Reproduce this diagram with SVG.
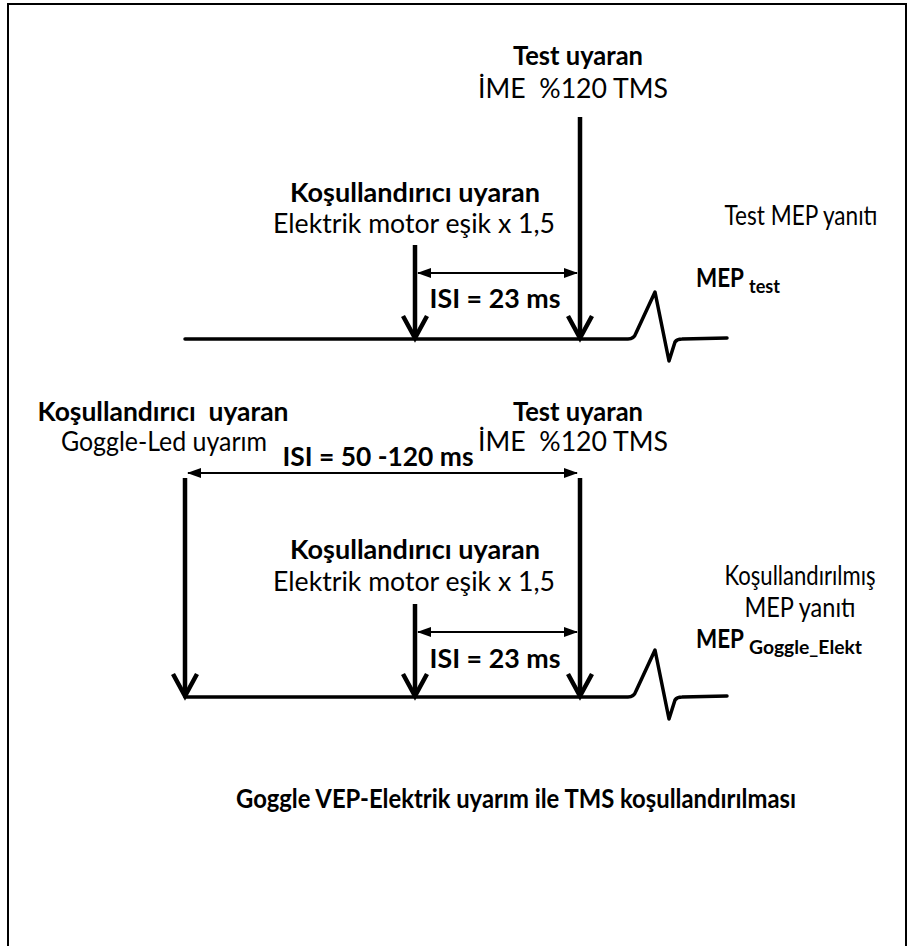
<svg xmlns="http://www.w3.org/2000/svg" width="923" height="946" viewBox="0 0 923 946">
<defs>
<marker id="tri" viewBox="0 0 14 10" refX="13" refY="5" markerWidth="14" markerHeight="10" markerUnits="userSpaceOnUse" orient="auto-start-reverse">
<path d="M0,0 L14,5 L0,10 Z" fill="#000"/>
</marker>
</defs>
<style>
text{font-family:Lato,"Liberation Sans",sans-serif;font-size:27px;fill:#000;white-space:pre}
.b{font-weight:bold}
.m{text-anchor:middle}
.mep{font-size:26px;font-weight:bold}
.sub{font-size:18px;font-weight:bold}
.stem{stroke:#000;stroke-width:4.5;fill:none}
.head{stroke:#000;stroke-width:4.5;fill:none;stroke-linejoin:miter;stroke-linecap:butt}
.base{stroke:#000;stroke-width:3.5;fill:none;stroke-linejoin:round;stroke-linecap:round}
.dbl{stroke:#000;stroke-width:2;fill:none;marker-start:url(#tri);marker-end:url(#tri)}
</style>
<rect x="8" y="4" width="898" height="980" fill="#fff" stroke="#000" stroke-width="2"/>

<g id="test-stim-1">
<text class="b m" x="578" y="65" textLength="130" lengthAdjust="spacingAndGlyphs">Test uyaran</text>
<text class="m" x="573" y="98" textLength="190" lengthAdjust="spacingAndGlyphs">İME  %120 TMS</text>
</g>
<g id="cond-stim-1">
<text class="b m" x="415" y="202" textLength="250" lengthAdjust="spacingAndGlyphs">Koşullandırıcı uyaran</text>
<text class="m" x="414" y="233" textLength="282" lengthAdjust="spacingAndGlyphs">Elektrik motor eşik x 1,5</text>
</g>
<g id="mep-label-1">
<text class="m" x="801" y="225" textLength="153" lengthAdjust="spacingAndGlyphs">Test MEP yanıtı</text>
<text class="mep" x="696" y="287" textLength="48" lengthAdjust="spacingAndGlyphs">MEP</text>
<text class="sub" x="749" y="293" textLength="31" lengthAdjust="spacingAndGlyphs">test</text>
</g>

<g id="cond-stim-2">
<text class="b m" x="163" y="421" textLength="251" lengthAdjust="spacingAndGlyphs">Koşullandırıcı  uyaran</text>
<text class="m" x="164" y="451" textLength="206" lengthAdjust="spacingAndGlyphs">Goggle-Led uyarım</text>
</g>
<g id="test-stim-2">
<text class="b m" x="578" y="421" textLength="130" lengthAdjust="spacingAndGlyphs">Test uyaran</text>
<text class="m" x="573" y="451" textLength="190" lengthAdjust="spacingAndGlyphs">İME  %120 TMS</text>
</g>
<g id="cond-stim-3">
<text class="b m" x="415" y="559" textLength="250" lengthAdjust="spacingAndGlyphs">Koşullandırıcı uyaran</text>
<text class="m" x="414" y="591" textLength="282" lengthAdjust="spacingAndGlyphs">Elektrik motor eşik x 1,5</text>
</g>
<g id="mep-label-2">
<text class="m" x="800" y="585" textLength="151" lengthAdjust="spacingAndGlyphs">Koşullandırılmış</text>
<text class="m" x="800" y="617" textLength="111" lengthAdjust="spacingAndGlyphs">MEP yanıtı</text>
<text class="mep" x="696" y="648" textLength="48" lengthAdjust="spacingAndGlyphs">MEP</text>
<text class="sub" x="749" y="654" textLength="113" lengthAdjust="spacingAndGlyphs">Goggle_Elekt</text>
</g>

<g id="caption">
<text class="b m" x="516" y="808" textLength="560" lengthAdjust="spacingAndGlyphs">Goggle VEP-Elektrik uyarım ile TMS koşullandırılması</text>
</g>

<g id="connectors">
<path class="base" d="M185,339 L628,339 Q634,339 636,333 L655,292 L669,361 L675,342 Q677,339 682,339 L727,338"/>
<line class="stem" x1="580" y1="117" x2="580" y2="337"/>
<polyline class="head" points="568,316 580,338 592,316"/>
<line class="stem" x1="415" y1="245" x2="415" y2="337"/>
<polyline class="head" points="403,316 415,338 427,316"/>
<line class="dbl" x1="418" y1="273" x2="577" y2="273"/>
<text class="b m" x="495" y="308" textLength="131" lengthAdjust="spacingAndGlyphs">ISI = 23 ms</text>

<path class="base" d="M185,697 L628,697 Q634,697 636,691 L655,650 L669,719 L675,700 Q677,697 682,697 L727,696"/>
<line class="stem" x1="185" y1="478" x2="185" y2="695"/>
<polyline class="head" points="173,674 185,696 197,674"/>
<line class="stem" x1="580" y1="478" x2="580" y2="695"/>
<polyline class="head" points="568,674 580,696 592,674"/>
<line class="dbl" x1="188" y1="473" x2="577" y2="473"/>
<text class="b m" x="378" y="466" textLength="191" lengthAdjust="spacingAndGlyphs">ISI = 50 -120 ms</text>
<line class="stem" x1="415" y1="604" x2="415" y2="695"/>
<polyline class="head" points="403,674 415,696 427,674"/>
<line class="dbl" x1="418" y1="632" x2="577" y2="632"/>
<text class="b m" x="495" y="668" textLength="131" lengthAdjust="spacingAndGlyphs">ISI = 23 ms</text>
</g>
</svg>
